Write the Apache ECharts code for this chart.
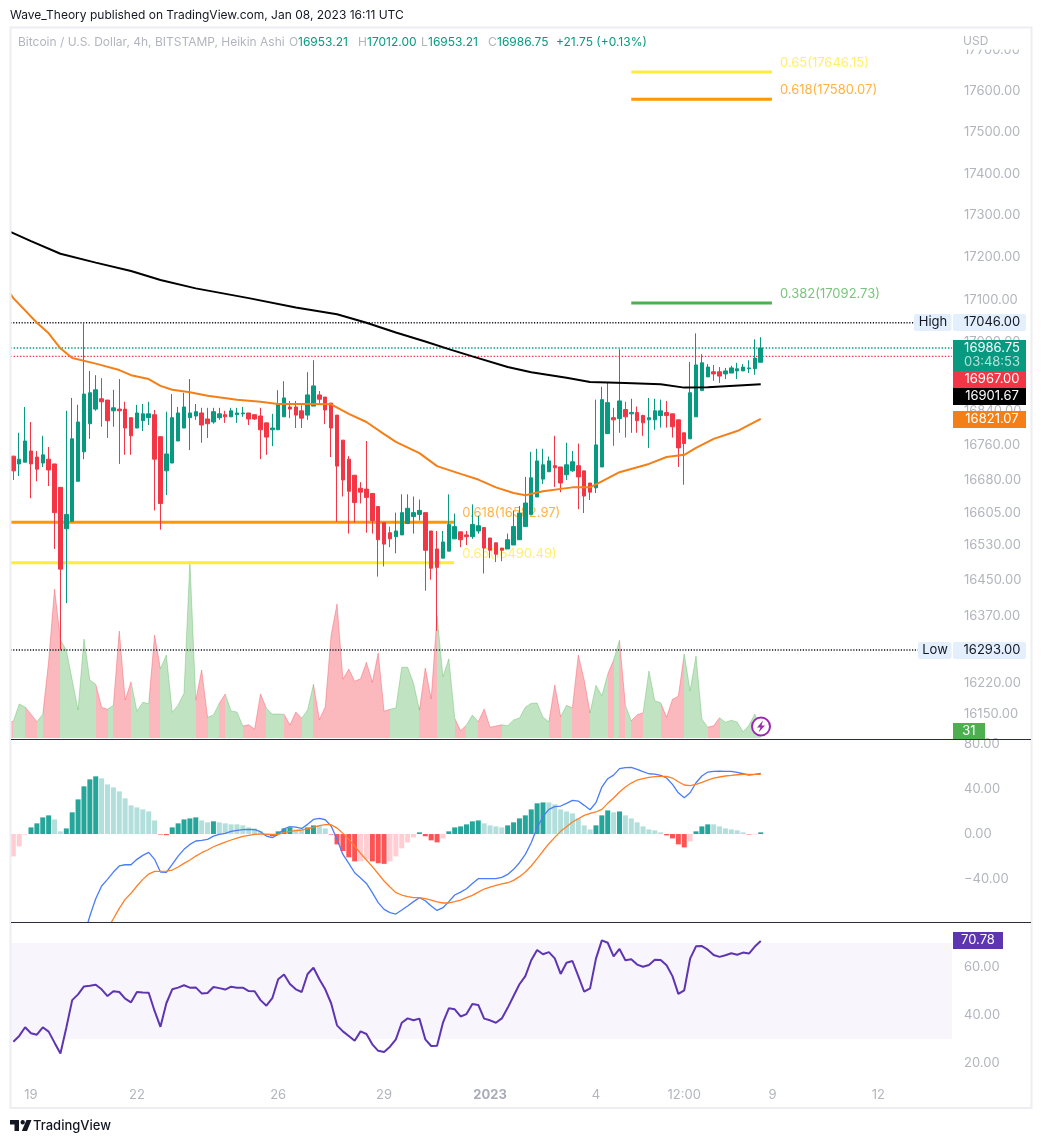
<!DOCTYPE html>
<html><head><meta charset="utf-8">
<style>html,body{margin:0;padding:0;background:#fff}#c{width:1041px;height:1143px}</style>
<script src="https://cdn.jsdelivr.net/npm/echarts@6/dist/echarts.min.js"></script>
</head><body><div id="c"></div>
<script>
const opens=[16735,16717,16721,16747,16733,16719,16728,16717,16663,16568,
16585,16677,16745,16810,16844,16868,16865,16840,16844,16844,
16824,16800,16817,16824,16831,16780,16701,16719,16770,16800,
16824,16828,16835,16821,16814,16824,16831,16826,16831,16833,16835,16831,
16828,16812,16796,16796,16826,16849,16849,16840,16830,16851,
16877,16872,16858,16830,16772,16728,16691,16661,16659,16649,
16619,16582,16559,16550,16554,16580,16596,16601,16605,16563,
16522,16501,16517,16545,16561,16554,16550,16563,16571,16547,16536,16524,16522,16531,
16543,16573,16601,16641,16682,16699,16713,16710,16692,16701,
16713,16701,16673,16662,16710,16787,16824,16822,16843,16833,
16836,16829,16819,16819,16829,16836,16833,16819,16789,16775,
16826,16887,16919,16931,16931,16926,16928,16933,16933,16938,16938,16953.21];
const closes=[16701,16728,16770,16717,16705,16738,16703,16605,16476,16601,
16775,16814,16879,16882,16889,16861,16817,16847,16840,16800,
16782,16835,16833,16833,16728,16626,16740,16824,16835,16849,
16835,16838,16807,16810,16838,16833,16826,16840,16835,16835,16821,16821,
16796,16779,16800,16856,16870,16844,16830,16823,16877,16898,
16867,16842,16800,16712,16680,16654,16628,16652,16640,16587,
16543,16533,16545,16563,16605,16615,16605,16610,16519,16478,
16480,16538,16578,16573,16543,16550,16578,16575,16524,16519,16510,16519,16543,16573,
16604,16627,16685,16724,16715,16724,16708,16673,16715,16722,
16687,16643,16652,16761,16866,16859,16819,16863,16826,16836,
16817,16812,16824,16840,16840,16829,16803,16754,16764,16882,
16947,16952,16942,16926,16921,16933,16940,16938,16942,16940,16963,16986.75];
const highs=[16735,16789,16849,16814,16747,16782,16756,16717,16663,16840,
16870,16854,17046,16933,16923,16916,16865,16889,16914,16861,
16824,16854,16856,16861,16842,16780,16838,16879,16849,16882,
16914,16856,16847,16847,16847,16847,16840,16847,16847,16849,16835,16831,
16847,16812,16833,16888,16909,16863,16863,16853,16930,16958,
16886,16872,16858,16830,16772,16735,16691,16675,16770,16649,
16619,16582,16573,16605,16647,16647,16642,16635,16605,16563,
16563,16563,16647,16603,16561,16563,16624,16598,16571,16547,16536,16524,16557,16610,
16620,16687,16745,16752,16752,16734,16782,16710,16766,16747,
16764,16701,16673,16866,16896,16905,16847,16984,16861,16868,
16850,16831,16870,16868,16866,16863,16833,16819,16789,16954,
17021,16972,16949,16947,16942,16940,16945,16952,16949,16958,17007,17012];
const lows=[16680,16689,16721,16638,16677,16710,16666,16522,16293,16399,
16585,16677,16728,16775,16840,16803,16777,16803,16717,16738,
16738,16800,16793,16807,16610,16566,16645,16719,16770,16800,
16749,16819,16766,16777,16810,16819,16812,16826,16812,16826,16807,16819,
16728,16738,16758,16796,16826,16823,16800,16800,16819,16851,
16856,16809,16733,16584,16642,16557,16582,16626,16559,16557,
16459,16482,16526,16512,16554,16580,16557,16587,16427,16452,
16336,16501,16517,16545,16526,16531,16545,16557,16466,16501,16492,16494,16522,16531,
16543,16573,16601,16641,16671,16699,16664,16652,16680,16699,
16613,16604,16634,16650,16710,16787,16759,16789,16778,16789,
16789,16782,16754,16796,16801,16801,16778,16710,16669,16775,
16826,16887,16919,16910,16905,16914,16928,16914,16933,16928,16924,16953.21];

const volume=[67,136,124,95,65,95,308,596,392,352,232,112,396,232,215,123,115,131,428,152,
225,107,143,137,412,277,332,103,132,179,708,151,272,83,92,139,176,108,104,48,
53,35,176,119,96,96,95,52,104,79,112,215,73,125,412,536,235,276,227,237,
303,223,340,107,115,120,283,283,219,112,280,157,489,245,317,79,29,52,92,65,
116,43,48,53,49,72,80,123,139,140,83,65,212,85,131,121,332,232,101,211,
169,256,312,391,131,69,93,100,268,149,141,83,155,167,336,189,328,76,43,49,
81,63,71,64,25,51,96,31];
const volumeSide=("GGRRGRRRGG"+"GGGGRRGRRR"+"GGGRRGGGGG"+"GRRGGRGGGR"+"RRRGGGRRRG"+"GRRRRRRRRR"+"RRRRGGGGGR"+"RRGGGRRGGR"+"RRRGGGGGGG"+"GRRGGRRRGG"+"GRGRGRRGGG"+"RRRRGGGGRR"+"GGGGGGGG").split("");
const volumeBeforeFirst=64;

const macdHist=[-19.9,-11,-0.6,5.9,9.5,14.8,16.6,13,2.4,5,19.3,30.8,42.4,48.6,51.3,49.5,44.1,41.5,37.9,31.7,
25.5,23.7,21.9,20.1,12.1,-0.5,-1,5.9,9.5,13,13.9,14.8,12.1,10.4,11.3,10.4,9.5,8.6,8.6,7.7,
5.9,5,2.4,-1,-2,2.4,5,5.9,4.1,4.1,5.9,7.7,7.7,5,-0.5,-9.2,-15.1,-20.7,-24.3,-24.3,
-22.5,-24.3,-26,-26.5,-24.3,-19.9,-12.7,-7.4,-3,1.5,-2,-5.6,-7.4,-3.9,2.4,5.9,6.8,8.6,11.3,12.1,
9.5,7.7,6.8,5.9,7.7,10.4,13.9,16.6,21.9,27.3,28.1,28.1,26.4,21.9,20.1,18.4,13.9,7.7,4.1,7.7,
16.6,21,19.3,20.1,16.6,13.9,10.4,6.8,4.1,3.3,1.5,-1.2,-3.9,-9.2,-11.9,-6.5,2.4,6.8,8.6,8.6,
6.8,5,4.1,3.3,1.5,-0.4,-0.4,1.5];
const macdLine=[null,null,null,null,null,null,null,null,null,null,null,null,
-90.7,-72.9,-57.5,-46.2,-40.3,-33.8,-28.4,-27.3,-27.3,-22.5,-19,-16.3,-22.5,-33.8,-34.1,-27,-19.6,-13.6,
-9.2,-6.2,-5.6,-4.7,-1.8,-0.3,0.6,2.4,3.3,3.9,4.1,3.9,2.1,-1.8,-3.3,-0.3,4.7,6.5,6.2,5,
8.6,13,13.9,12.7,7.1,-4.7,-18.1,-26.1,-34.4,-39.1,-43.9,-52.1,-61,-67,-69.9,-71.1,-67.6,-64,-60.1,-56.6,
-59.3,-64,-67.9,-65.5,-60.1,-54.2,-51.6,-48.6,-43.9,-39.7,-39.7,-39.7,-39.7,-38.5,-35.9,-31.4,-25.5,-18.1,-7.7,5.6,
15.4,21.9,24.3,24.9,27.3,29.9,29.3,25.5,21.6,27.9,41.8,49.2,52.4,58.1,59,59.3,57.5,55.4,53.6,53.3,
52.1,49.8,44.1,36.7,32.3,36.7,45.6,51.6,55.1,55.7,56,55.7,55.7,54.8,53.6,52.4,53,53.9];
const macdSignal=[null,null,null,null,null,null,null,null,null,null,null,null,null,null,null,null,
-84.4,-75.3,-66.1,-58.1,-52.7,-46.2,-40.3,-35.6,-33.2,-33.2,-32.9,-32,-29.3,-26.1,
-23.1,-19.6,-16.6,-14.2,-11.3,-9.2,-7.1,-5.3,-3.6,-2.1,-1.2,-0.3,0,0,-0.3,-0.3,1.2,2.4,3,3.6,
4.7,5.9,7.4,8.3,8.3,5.3,0.6,-4.7,-10.7,-17.2,-23.1,-29,-35.3,-41.8,-47.1,-52.1,-54.2,-55.7,-56.6,-56.6,
-57.5,-58.7,-60.4,-61.3,-61.3,-60.1,-58.7,-56.6,-54.5,-51.6,-48.9,-47.1,-45.6,-44.4,-43.3,-41.2,-37.9,-33.8,-28.4,-21.9,
-15.1,-8.6,-3,2.4,6.5,10.7,13.6,16.6,18.4,19.6,21.9,27.3,32,37.3,41.8,45.3,48,49.2,50.4,51,
51.3,51.3,49.8,46.5,43.6,43,44.1,45.9,48,49.8,50.7,51.6,52.1,52.7,53,53,53,53];

const rsi=[28.9,31.3,34.9,32.4,31.8,34.9,33.1,28.5,24,34.7,46.2,48.6,51.9,52.2,52.6,50.7,47.9,49.9,49.6,46.8,
45.3,49.6,49.4,49.3,41.7,35.1,44.9,50.7,51.4,52.4,51.4,51.5,49,49.2,51.7,51.2,50.6,51.8,51.4,51.4,
50,49.9,46.2,43.9,47,54.9,56.9,52.9,50.7,49.6,57.1,59.7,54.9,50.7,44.9,35.7,33.2,31.3,29.3,33.2,
32.1,27.8,25.1,24.6,26.8,29.9,36.8,38.6,37.8,38.5,29.9,27.1,27.2,36.8,42.8,42.4,39.4,40.4,44.6,44.2,
38.5,37.8,36.8,38.6,43,47.9,52.8,56.2,62.8,67.1,65.3,66.2,63.6,57.1,61.8,62.5,56.2,49.7,51.1,63.5,
71.1,70.1,64.4,67.5,62.8,63.2,61,60.1,60.8,63,62.9,60.7,56.2,48.8,50.3,63.5,68.6,68.7,67.2,65,
64.2,64.9,65.7,65.1,66,65.6,68.5,70.78];

const ema50Bars=[-0.5,0,4,6,8,10,14,18,20,23,25,27,30,33,38,42,45,50,54,57,60,63,65,69,72,76,79,82,85,87,90,95,98,100,103,108,111,114,116,119,123,127];
const ema50Vals=[17114,17104,17046,17021,16986,16963,16950,16935,16923,16914,16898,16889,16883,16875,16866,16861,16856,16856,16855,16833,16814,16786,16768,16742,16712,16694,16681,16663,16650,16645,16654,16663,16663,16677,16698,16717,16733,16738,16754,16775,16793,16821.07];
const ema200Bars=[-0.5,3,8,14,20,25,31,40,48,55,60,65,70,74,78,84,88,94,98,104,110,114,118,127];
const ema200Vals=[17261,17239,17209,17188,17168,17147,17127,17104,17082,17066,17046,17023,17002,16984,16967,16942,16930,16917,16907,16905,16902,16894,16895,16901.67];

const fibLevels=[
 {text:"0.65(17646.15)",value:17646.15,from:105,to:128.9,color:"#FFEB3B"},
 {text:"0.618(17580.07)",value:17580.07,from:105,to:128.9,color:"#FF9800"},
 {text:"0.382(17092.73)",value:17092.73,from:105,to:128.9,color:"#4CAF50"},
 {text:"0.618(16582.97)",value:16582.97,from:-0.5,to:74.9,color:"#FF9800"},
 {text:"0.65(16490.49)",value:16490.49,from:-0.5,to:74.9,color:"#FFEB3B"}];
const highLevel=17046, lowLevel=16293, lastClose=16986.75, lastOpenRef=16967;

const priceTicks=[17700,17600,17500,17400,17300,17200,17100,17000,16920,16840,16760,16680,16605,16530,16450,16370,16220,16150];
const macdTicks=[80,40,0,-40];
const rsiTicks=[60,40,20];
const timeTickBars=[3,21,45,63,81,99,114,129,147];
const timeTickText=["19","22","26","29","2023","4","12:00","9","12"];
const categories=Array.from({length:160},(_,i)=>new Date(Date.UTC(2022,11,18,12+4*i)).toISOString().slice(0,16));

const FONT='Inter, "Noto Sans", sans-serif';
const GRAY='#B2B5BE', UP='#089981', DOWN='#F23645';
const L=10.4, W=941.6;
const TAG='13px '+FONT;

function txt(t,x,y,fill,o={}){return {type:'text',z:100,silent:true,style:{text:t,x,y,fill,font:(o.font||'12px '+FONT),align:o.align||'left',verticalAlign:'middle',textAlign:o.align||'left',textVerticalAlign:'middle'}}}
function tag(t,x,y,fill){return txt(t,x,y,fill,{align:'center',font:TAG})}
function box(x,y,w,h,fill,r=0){return {type:'rect',z:99,silent:true,shape:{x,y,width:w,height:h,r},style:{fill}}}
function hline(x1,x2,y,stroke){return {type:'line',z:98,silent:true,shape:{x1,y1:y,x2,y2:y},style:{stroke,lineWidth:1}}}

const graphic=[
 {type:'rect',z:97,silent:true,shape:{x:10.5,y:27.5,width:1021,height:1080.5},style:{fill:'none',stroke:'#EDEEF3',lineWidth:2}},
 hline(11,1031,739.5,'#2A2E39'),hline(11,1031,922.5,'#2A2E39'),
 txt('Wave_Theory published on TradingView.com, Jan 08, 2023 16:11 UTC',10,15.5,'#131722'),
 txt('Bitcoin / U.S. Dollar, 4h, BITSTAMP, Heikin Ashi',18,42.5,GRAY),
 txt('O',289,42.5,GRAY),txt('16953.21',298,42.5,UP),
 txt('H',358,42.5,GRAY),txt('17012.00',367,42.5,UP),
 txt('L',421,42.5,GRAY),txt('16953.21',428,42.5,UP),
 txt('C',488,42.5,GRAY),txt('16986.75',497,42.5,UP),
 txt('+21.75 (+0.13%)',556,42.5,UP),
 box(954,30,74,19.5,'#fff'),txt('USD',963,41,GRAY),
 box(914,314,37.5,17,'#E3EFFD',2),tag('High',933,322.5,'#131722'),
 box(953,314,73,17,'#E3EFFD',2),tag('17046.00',992,322.5,'#131722'),
 box(918,642,33.5,17,'#E3EFFD',2),tag('Low',935,650.5,'#131722'),
 box(953,642,73,17,'#E3EFFD',2),tag('16293.00',992,650.5,'#131722'),
 box(953,340,73,31,UP),tag('16986.75',992,348.5,'#fff'),tag('03:48:53',992,362.5,'#B5E0D7'),
 box(953,371,73,17,DOWN),tag('16967.00',992,379.5,'#fff'),
 box(953,388,73,17,'#000'),tag('16901.67',992,396.5,'#fff'),
 box(953,411,73,17,'#F57F17'),tag('16821.07',992,419.5,'#fff'),
 box(953,723,32,16,'#4CAF50'),tag('31',969,731.5,'#fff'),
 box(953,932,50,17,'#5E35B1'),tag('70.78',978,940.5,'#fff'),
 {type:'circle',z:100,silent:true,shape:{cx:761,cy:726.5,r:9},style:{fill:'#fff',stroke:'#9C27B0',lineWidth:2}},
 {type:'polygon',z:101,silent:true,shape:{points:[[763,720.5],[757,727.5],[760.5,727.5],[758.5,732.5],[765,725.5],[761.5,725.5]]},style:{fill:'#9C27B0'}},
 {type:'polygon',z:100,silent:true,shape:{points:[[10,1120],[19,1120],[19,1131],[14.5,1131],[14.5,1124.5],[10,1124.5]]},style:{fill:'#131722'}},
 {type:'circle',z:100,silent:true,shape:{cx:22.7,cy:1122.3,r:2.2},style:{fill:'#131722'}},
 {type:'polygon',z:100,silent:true,shape:{points:[[26.5,1120],[31.5,1120],[27,1131],[21.8,1131]]},style:{fill:'#131722'}},
 txt('TradingView',33,1126,'#131722',{font:'500 13px '+FONT})
];

const pieces=[{gte:-1,lt:0,color:'#F23645'},...volumeSide.map((s,i)=>({gte:i,lt:i+1,color:s==='R'?'#F23645':'#4CAF50'}))];
const histColor=macdHist.map((v,i)=>{const p=i?macdHist[i-1]:v;return v>=0?(v>p?'#26A69A':'#B2DFDB'):(v<p?'#FF5252':'#FFCDD2')});
const priceLabel={color:GRAY,fontFamily:FONT,fontSize:13,margin:12,align:'left',formatter:v=>Number(v).toFixed(2).replace('-','\u2212'),hideOverlap:false,showMinLabel:true,showMaxLabel:true};
const flatLine=(name,v,from,to,color,dash)=>({name,type:'line',xAxisIndex:1,yAxisIndex:0,z:1,silent:true,symbol:'none',data:[[from,v],[to,v]],lineStyle:{color,width:1.4,type:dash}});

const series=[
 {name:'Volume',type:'line',xAxisIndex:1,yAxisIndex:1,z:0,symbol:'none',silent:true,data:[[-0.5,volumeBeforeFirst],...volume.map((v,i)=>[i,v])],lineStyle:{width:1,opacity:0.35},areaStyle:{opacity:0.35}},
 flatLine('High',highLevel,-0.5,153.2,'#131722',[1.2,1.6]),
 flatLine('Low',lowLevel,-0.5,153.7,'#131722',[1.2,1.6]),
 flatLine('Last',lastClose,-0.5,159.5,UP,[1.4,1.8]),
 flatLine('PrevClose',lastOpenRef,-0.5,159.5,DOWN,[1.4,1.8]),
 ...fibLevels.map(f=>({name:f.text,type:'line',xAxisIndex:1,yAxisIndex:0,z:1,silent:true,symbol:'none',data:[[f.from,f.value],[f.to,f.value]],lineStyle:{color:f.color,width:3},
   endLabel:{show:true,formatter:f.text,color:f.color,opacity:0.75,fontFamily:FONT,fontSize:13,offset:[0,-9]}})),
 {name:'Price',type:'candlestick',xAxisIndex:0,yAxisIndex:0,z:2,silent:true,barWidth:4,
  data:opens.map((o,i)=>[o,closes[i],lows[i],highs[i]]),
  itemStyle:{color:UP,color0:DOWN,borderColor:UP,borderColor0:DOWN,borderColorDoji:UP,borderWidth:1}},
 {name:'EMA200',type:'line',xAxisIndex:1,yAxisIndex:0,z:3,silent:true,symbol:'none',data:ema200Bars.map((b,i)=>[b,ema200Vals[i]]),lineStyle:{color:'#000',width:2}},
 {name:'EMA50',type:'line',xAxisIndex:1,yAxisIndex:0,z:3,silent:true,symbol:'none',data:ema50Bars.map((b,i)=>[b,ema50Vals[i]]),lineStyle:{color:'#F57F17',width:2}},
 {name:'Hist',type:'bar',xAxisIndex:2,yAxisIndex:2,barWidth:5,silent:true,data:macdHist.map((v,i)=>({value:v,itemStyle:{color:histColor[i]}}))},
 {name:'MACD',type:'line',xAxisIndex:2,yAxisIndex:2,z:3,silent:true,symbol:'none',data:macdLine,lineStyle:{color:'#4A7DF7',width:1.3}},
 {name:'Signal',type:'line',xAxisIndex:2,yAxisIndex:2,z:3,silent:true,symbol:'none',data:macdSignal,lineStyle:{color:'#FF7F27',width:1.3}},
 {name:'RSI',type:'line',xAxisIndex:3,yAxisIndex:3,z:3,silent:true,symbol:'none',data:rsi,lineStyle:{color:'#5E35B1',width:2},
  markArea:{silent:true,itemStyle:{color:'#F8F5FD',opacity:1},data:[[{yAxis:70},{yAxis:30}]]}}
];
const hiddenAxis={axisLine:{show:false},axisTick:{show:false},axisLabel:{show:false},splitLine:{show:false}};

const chart=echarts.init(document.getElementById('c'),null,{renderer:'canvas'});
chart.setOption({
 animation:false,backgroundColor:'#fff',graphic,
 visualMap:[{type:'piecewise',show:false,seriesIndex:0,dimension:0,pieces,outOfRange:{color:'#4CAF50'}}],
 grid:[
  {left:L,width:W,top:28,height:712},
  {left:L,width:W,top:740,height:182},
  {left:L,width:W,top:924,height:153}],
 xAxis:[
  {type:'category',gridIndex:0,data:categories,...hiddenAxis},
  {type:'value',gridIndex:0,min:-0.5,max:159.5,...hiddenAxis},
  {type:'category',gridIndex:1,data:categories,...hiddenAxis},
  {type:'category',gridIndex:2,data:categories,axisLine:{show:false},axisTick:{show:false},splitLine:{show:false},
   axisLabel:{color:GRAY,fontFamily:FONT,fontSize:13,margin:12,hideOverlap:false,
    interval:(i)=>timeTickBars.includes(i),
    formatter:(v,i)=>{const k=timeTickBars.indexOf(i);if(k<0)return '';return timeTickText[k]==='2023'?'{b|2023}':timeTickText[k]},
    rich:{b:{fontWeight:'bold',color:'#A9ACB8',fontFamily:FONT,fontSize:13}}}}],
 yAxis:[
  {type:'log',logBase:10,gridIndex:0,position:'right',min:16092,max:17753.7,scale:true,axisLine:{show:false},axisTick:{show:false},splitLine:{show:false},
   axisLabel:{...priceLabel,customValues:priceTicks}},
  {type:'value',gridIndex:0,min:-8,max:2840,...hiddenAxis},
  {type:'value',gridIndex:1,position:'right',min:-78.2,max:83.6,axisLine:{show:false},axisTick:{show:false},splitLine:{show:false},
   axisLabel:{...priceLabel,customValues:macdTicks}},
  {type:'value',gridIndex:2,position:'right',min:14.2,max:77.9,axisLine:{show:false},axisTick:{show:false},splitLine:{show:false},
   axisLabel:{...priceLabel,customValues:rsiTicks}}],
 series
});
</script></body></html>
